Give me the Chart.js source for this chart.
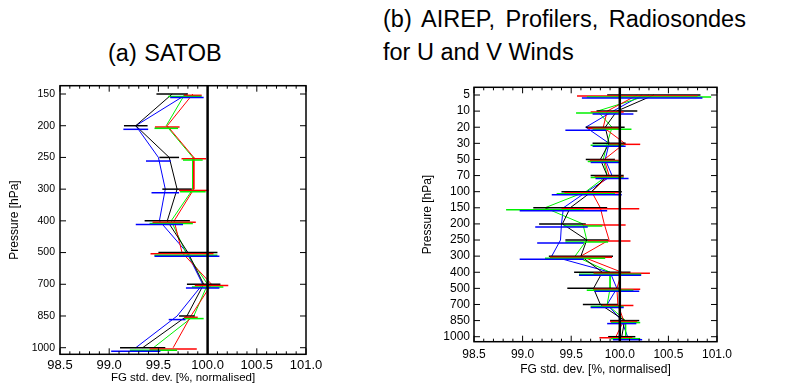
<!DOCTYPE html>
<html>
<head>
<meta charset="utf-8">
<script src="https://cdn.jsdelivr.net/npm/chart.js@4.4.0/dist/chart.umd.min.js"></script>
<style>
body { margin: 0; width: 797px; height: 389px; background: #fff; position: relative; overflow: hidden; font-family: "Liberation Sans", Arial, sans-serif; }
canvas { position: absolute; left: 0; top: 0; }
.t { position: absolute; font-size: 23.5px; color: #000; white-space: nowrap; line-height: 1; }
</style>
</head>
<body>
<div class="t" style="left:108px;top:42px;word-spacing:1px">(a) SATOB</div>
<div class="t" style="left:383px;top:8px;word-spacing:4px">(b) AIREP, Profilers, Radiosondes</div>
<div class="t" style="left:383px;top:41px">for U and V Winds</div>
<canvas id="satob" width="797" height="389"></canvas>
<canvas id="winds" width="797" height="389"></canvas>
<script>
const xTicks = [98.5, 99.0, 99.5, 100.0, 100.5, 101.0];
const refValue = 100.0;

// (a) SATOB
const satobLevels = [150, 200, 250, 300, 400, 500, 700, 850, 1000];
const satobBlack = [99.64, 99.27, 99.61, 99.69, 99.59, 99.80, 99.96, 99.79, 99.34];
const satobBlackErr = [0.16, 0.12, 0.10, 0.15, 0.23, 0.30, 0.17, 0.08, 0.23];
const satobRed = [99.85, 99.59, 99.86, 99.86, 99.66, 99.74, 100.04, 99.83, 99.65];
const satobRedErr = [0.09, 0.125, 0.125, 0.15, 0.22, 0.32, 0.17, 0.07, 0.24];
const satobGreen = [99.77, 99.58, 99.85, 99.85, 99.63, 99.78, 100.00, 99.86, 99.45];
const satobGreenErr = [0.17, 0.12, 0.10, 0.13, 0.22, 0.32, 0.16, 0.10, 0.24];
const satobBlue = [99.79, 99.27, 99.50, 99.57, 99.51, 99.79, 99.95, 99.69, 99.27];
const satobBlueErr = [0.17, 0.126, 0.126, 0.14, 0.24, 0.33, 0.17, 0.085, 0.25];

// (b) AIREP, Profilers, Radiosondes
const windLevels = [5, 10, 20, 30, 50, 70, 100, 150, 200, 250, 300, 400, 500, 700, 850, 1000];
const windBlack = [100.35, 99.97, 99.85, 99.89, 99.80, 99.87, 99.71, 99.49, 99.41, 99.66, 99.60, 99.82, 99.73, 99.80, 100.05, 100.02];
const windBlackErr = [0.48, 0.21, 0.20, 0.17, 0.15, 0.17, 0.31, 0.38, 0.24, 0.22, 0.33, 0.29, 0.27, 0.18, 0.15, 0.14];
const windRed = [100.18, 99.87, 99.83, 100.05, 99.84, 99.89, 99.71, 99.80, 99.84, 99.89, 99.60, 100.02, 99.97, 99.98, 100.04, 99.96];
const windRedErr = [0.62, 0.17, 0.16, 0.16, 0.15, 0.15, 0.28, 0.40, 0.22, 0.22, 0.32, 0.29, 0.24, 0.16, 0.14, 0.17];
const windGreen = [100.30, 99.77, 99.92, 99.87, 99.83, 99.87, 99.65, 99.23, 99.62, 99.66, 99.54, 99.90, 99.90, 99.87, 100.06, 100.06];
const windGreenErr = [0.64, 0.22, 0.20, 0.17, 0.16, 0.17, 0.30, 0.40, 0.20, 0.22, 0.31, 0.32, 0.24, 0.17, 0.15, 0.15];
const windBlue = [100.23, 99.93, 99.65, 99.89, 99.85, 99.92, 99.66, 99.42, 99.40, 99.39, 99.30, 99.90, 99.97, 99.87, 100.02, 100.08];
const windBlueErr = [0.62, 0.21, 0.21, 0.17, 0.15, 0.17, 0.36, 0.45, 0.27, 0.24, 0.33, 0.32, 0.23, 0.17, 0.15, 0.15];

Chart.defaults.font.family = "'Liberation Sans', Arial, sans-serif";
Chart.defaults.color = '#000';

// IDL-style box, inward ticks, error bars and the 100% line
const idlAxes = {
    id: 'idlAxes',
    afterDatasetsDraw(chart) {
        const {ctx, chartArea: a, scales: {x, y}} = chart;
        ctx.save();
        chart.data.datasets.forEach(ds => {
            ctx.strokeStyle = ds.borderColor;
            ctx.lineWidth = 1.5;
            ds.data.forEach((p, j) => {
                const py = y.getPixelForValue(p.y) + ds.barShift;
                ctx.beginPath();
                ctx.moveTo(x.getPixelForValue(p.x - ds.err[j]), py);
                ctx.lineTo(x.getPixelForValue(p.x + ds.err[j]), py);
                ctx.stroke();
            });
        });
        ctx.strokeStyle = '#000';
        ctx.lineWidth = 2.5;
        const rx = x.getPixelForValue(refValue);
        ctx.beginPath();
        ctx.moveTo(rx, a.top);
        ctx.lineTo(rx, a.bottom);
        ctx.stroke();

        ctx.lineWidth = 1.5;
        ctx.strokeRect(a.left, a.top, a.right - a.left, a.bottom - a.top);
        ctx.lineWidth = 1;
        ctx.beginPath();
        for (let i = 0; i < xTicks.length; i++) {
            const steps = i < xTicks.length - 1 ? 5 : 1;
            for (let k = 0; k < steps; k++) {
                const v = i < xTicks.length - 1 ? xTicks[i] + (xTicks[i + 1] - xTicks[i]) * k / 5 : xTicks[i];
                const px = x.getPixelForValue(v);
                const len = k === 0 ? 6 : 3;
                ctx.moveTo(px, a.bottom); ctx.lineTo(px, a.bottom - len);
                ctx.moveTo(px, a.top); ctx.lineTo(px, a.top + len);
            }
        }
        y.ticks.forEach(t => {
            const py = y.getPixelForValue(t.value);
            ctx.moveTo(a.left, py); ctx.lineTo(a.left + 6, py);
            ctx.moveTo(a.right, py); ctx.lineTo(a.right - 6, py);
        });
        ctx.stroke();
        ctx.restore();
    }
};

function series(vals, errs, color, shift) {
    return {
        data: vals.map((v, i) => ({x: v, y: i})),
        err: errs,
        barShift: shift,
        borderColor: color,
        borderWidth: 1,
        showLine: true,
        pointRadius: 0,
        tension: 0
    };
}

function panel(id, levels, sets, box) {
    return new Chart(document.getElementById(id), {
        type: 'scatter',
        data: {datasets: sets},
        options: {
            responsive: false,
            animation: false,
            devicePixelRatio: 1,
            layout: {padding: box.padding},
            plugins: {legend: {display: false}, tooltip: {enabled: false}},
            scales: {
                x: {
                    min: xTicks[0],
                    max: xTicks[xTicks.length - 1],
                    grid: {display: false, drawTicks: false},
                    border: {display: false},
                    afterBuildTicks: s => { s.ticks = xTicks.map(v => ({value: v})); },
                    afterFit: s => { s.height = box.xHeight; },
                    ticks: {padding: box.xPad, autoSkip: false, maxRotation: 0, font: {size: box.xFont}, callback: v => v.toFixed(1)},
                    title: {display: true, text: 'FG std. dev. [%, normalised]', font: {size: box.xTitle}, padding: 0}
                },
                y: {
                    reverse: true,
                    min: box.yMin,
                    max: box.yMax,
                    grid: {display: false, drawTicks: false},
                    border: {display: false},
                    afterBuildTicks: s => { s.ticks = levels.map((l, i) => ({value: i})); },
                    afterFit: s => { s.width = 60; },
                    ticks: {padding: box.yPad, autoSkip: false, font: {size: box.yFont}, callback: v => levels[v]},
                    title: {display: true, text: 'Pressure [hPa]', font: {size: 12}, padding: {top: box.yTitlePad, bottom: 0}}
                }
            }
        },
        plugins: [idlAxes]
    });
}

panel('satob', satobLevels, [
    series(satobBlack, satobBlackErr, '#000000', 0),
    series(satobRed, satobRedErr, '#ff0000', 1.3),
    series(satobGreen, satobGreenErr, '#00f000', 2.6),
    series(satobBlue, satobBlueErr, '#0000ff', 3.6)
], {
    padding: {left: 0, top: 85.7, right: 491, bottom: 389 - 354.3 - 30.7},
    xHeight: 30.7, xPad: 2.9, xFont: 13, xTitle: 11.5,
    yMin: -0.262, yMax: 8.208, yPad: 5, yFont: 10.5, yTitlePad: 7.8
});

panel('winds', windLevels, [
    series(windBlack, windBlackErr, '#000000', 0),
    series(windRed, windRedErr, '#ff0000', 1),
    series(windGreen, windGreenErr, '#00f000', 2),
    series(windBlue, windBlueErr, '#0000ff', 3)
], {
    padding: {left: 414, top: 87.3, right: 80, bottom: 389 - 341.7 - 35.5},
    xHeight: 35.5, xPad: 6.1, xFont: 12, xTitle: 12,
    yMin: -0.478, yMax: 15.31, yPad: 4, yFont: 12, yTitlePad: 6.8
});
</script>
</body>
</html>
